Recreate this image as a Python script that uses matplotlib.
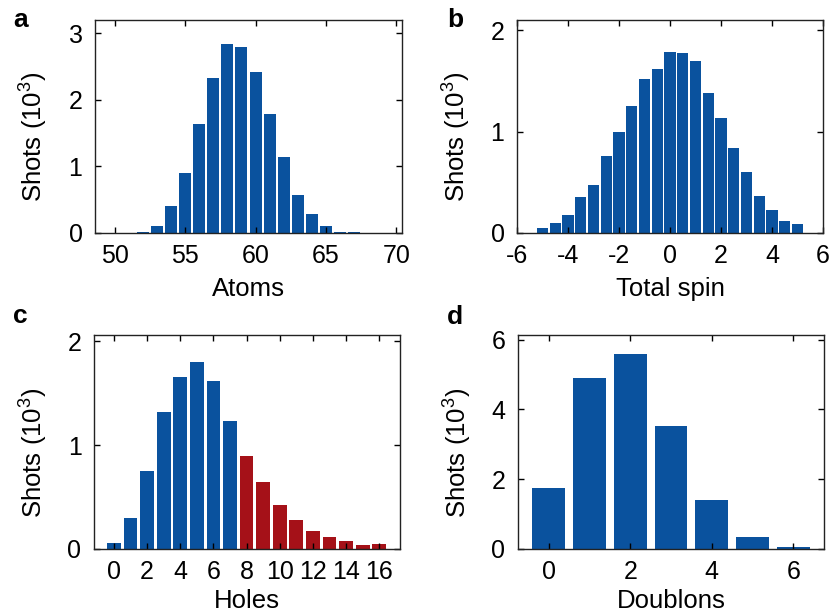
import numpy as np
import matplotlib
matplotlib.use("Agg")
from matplotlib import pyplot as plt

plt.rcParams['font.family'] = ['Liberation Sans', 'DejaVu Sans']
plt.rcParams['mathtext.fontset'] = 'custom'
plt.rcParams['mathtext.rm'] = 'Liberation Sans'
plt.rcParams['mathtext.default'] = 'regular'
plt.rcParams['axes.unicode_minus'] = False

blue = '#0A529E'
red = '#A51118'

# a: atom number
atoms = np.arange(52, 68)
atoms_shots = [0.02, 0.11, 0.41, 0.905, 1.64, 2.33, 2.84, 2.795, 2.42, 1.79,
               1.145, 0.575, 0.29, 0.11, 0.02, 0.02]

# b: total spin
spin = np.arange(-5, 5.01, 0.5)
spin_shots = [0.052, 0.10, 0.18, 0.357, 0.475, 0.76, 0.997, 1.25, 1.52, 1.62,
              1.78, 1.77, 1.70, 1.38, 1.13, 0.84, 0.60, 0.367, 0.23, 0.12, 0.09]

# c: holes (red = 8 and more)
holes = np.arange(0, 17)
holes_shots = [0.058, 0.30, 0.75, 1.32, 1.66, 1.80, 1.615, 1.23, 0.90, 0.644,
               0.423, 0.279, 0.173, 0.115, 0.077, 0.038, 0.048]
hole_cut = 8

# d: doublons
doublons = np.arange(0, 7)
doublons_shots = [1.75, 4.90, 5.58, 3.52, 1.40, 0.34, 0.057]

W, H = 831, 616
fig = plt.figure(figsize=(W / 100, H / 100), dpi=100)

def box(l, r, t, b):
    return [l / W, 1 - b / H, (r - l) / W, (b - t) / H]

axa = fig.add_axes(box(95, 402, 20, 233))
axb = fig.add_axes(box(517, 823, 20, 233))
axc = fig.add_axes(box(94, 400, 335, 549))
axd = fig.add_axes(box(518, 824, 335, 549))

axa.bar(atoms, atoms_shots, width=0.85, color=blue)
axb.bar(spin, spin_shots, width=0.44, color=blue)
hcol = [blue if h < hole_cut else red for h in holes]
axc.bar(holes, holes_shots, width=0.83, color=hcol)
axd.bar(doublons, doublons_shots, width=0.8, color=blue)

axa.set_xlim(48.6, 70.4)
axa.set_ylim(0, 3.2)
axa.set_xticks([50, 55, 60, 65, 70])
axa.set_yticks([0, 1, 2, 3])

axb.set_xlim(-6, 6)
axb.set_ylim(0, 2.1)
axb.set_xticks([-6, -4, -2, 0, 2, 4, 6])
axb.set_yticks([0, 1, 2])

axc.set_xlim(-1.2, 17.25)
axc.set_ylim(0, 2.06)
axc.set_xticks(range(0, 17, 2))
axc.set_yticks([0, 1, 2])

axd.set_xlim(-0.75, 6.75)
axd.set_ylim(0, 6.13)
axd.set_xticks([0, 2, 4, 6])
axd.set_yticks([0, 2, 4, 6])

xlabels = ['Atoms', 'Total spin', 'Holes', 'Doublons']
xlab_y = [-0.205, -0.205, -0.185, -0.185]
for ax, lab, ly in zip([axa, axb, axc, axd], xlabels, xlab_y):
    ax.set_xlabel(lab, fontsize=18.5)
    ax.set_ylabel('Shots (10$^3$)', fontsize=18.5)
    ax.xaxis.set_label_coords(0.5, ly)
    ax.yaxis.set_label_coords(-0.145, 0.45)
    ax.tick_params(direction='in', length=4, width=1, top=True, right=True,
                   labelsize=18)
    ax.tick_params(axis='x', pad=8)
    ax.tick_params(axis='y', pad=9)
    for s in ax.spines.values():
        s.set_linewidth(1.0)
        s.set_color('#222222')

for txt, x, y in [('a', 13, 27), ('b', 447, 27), ('c', 13, 323), ('d', 447, 324)]:
    fig.text(x / W, 1 - y / H, txt, fontsize=19, fontweight='bold', va='baseline')

plt.savefig('out.png', dpi=100)
